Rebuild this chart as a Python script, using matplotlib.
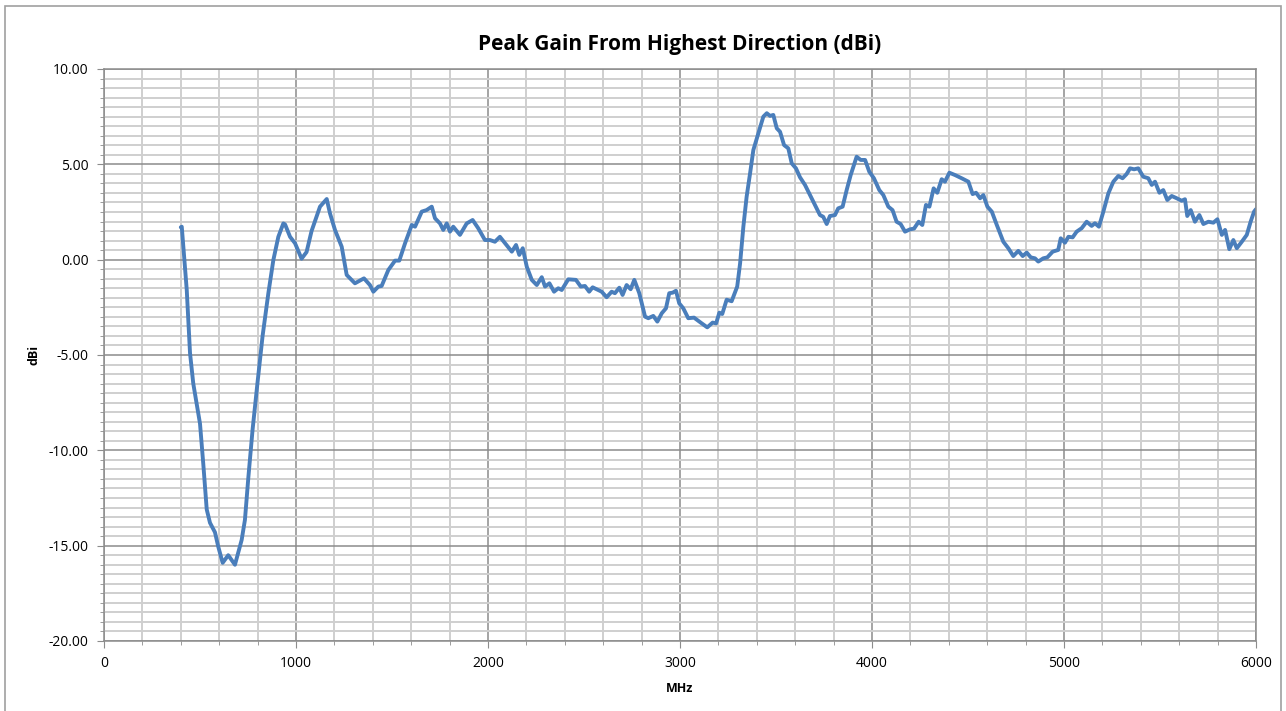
import matplotlib.pyplot as plt
from matplotlib.ticker import MultipleLocator, FormatStrFormatter
from matplotlib.patches import Rectangle

# frequency (MHz) and peak gain (dBi)
mhz = [400, 405, 431, 448, 465, 500, 517, 535, 552, 578, 595, 618, 647, 682,
       717, 734, 752, 774, 799, 826, 856, 882, 908, 934, 943, 969, 995, 1029,
       1055, 1081, 1125, 1160, 1177, 1203, 1238, 1264, 1307, 1354, 1385, 1403,
       1429, 1446, 1481, 1516, 1538, 1568, 1603, 1620, 1655, 1680, 1707, 1724,
       1750, 1767, 1785, 1802, 1819, 1854, 1889, 1920, 1949, 1984, 2010, 2036,
       2062, 2089, 2124, 2146, 2163, 2181, 2202, 2228, 2254, 2280, 2297, 2320,
       2344, 2366, 2384, 2418, 2458, 2483, 2505, 2527, 2545, 2574, 2592, 2618,
       2644, 2661, 2684, 2701, 2722, 2743, 2762, 2788, 2818, 2835, 2861, 2882,
       2905, 2927, 2944, 2962, 2979, 2996, 3017, 3043, 3073, 3113, 3142, 3170,
       3188, 3205, 3220, 3243, 3269, 3298, 3313, 3330, 3347, 3365, 3382, 3408,
       3434, 3452, 3469, 3486, 3504, 3521, 3542, 3564, 3582, 3604, 3625, 3651,
       3677, 3703, 3729, 3746, 3764, 3781, 3807, 3824, 3847, 3868, 3889, 3920,
       3941, 3964, 3986, 4010, 4038, 4059, 4085, 4107, 4128, 4149, 4172, 4198,
       4219, 4243, 4262, 4281, 4299, 4321, 4340, 4363, 4380, 4403, 4432, 4467,
       4502, 4524, 4542, 4563, 4580, 4601, 4624, 4650, 4684, 4710, 4736, 4762,
       4785, 4806, 4827, 4849, 4866, 4892, 4913, 4941, 4970, 4983, 5005, 5023,
       5045, 5066, 5092, 5118, 5144, 5161, 5182, 5205, 5231, 5257, 5283, 5305,
       5326, 5344, 5365, 5387, 5413, 5439, 5457, 5474, 5497, 5517, 5538, 5561,
       5587, 5613, 5630, 5642, 5660, 5682, 5705, 5726, 5752, 5778, 5799, 5822,
       5839, 5861, 5882, 5900, 5926, 5952, 5972, 5990, 6000]
gain = [1.70, 1.73, -1.59, -4.90, -6.50, -8.60, -10.70, -13.10, -13.80, -14.30,
        -15.05, -15.90, -15.50, -16.00, -14.70, -13.65, -11.40, -8.90, -6.50,
        -4.00, -1.76, -0.02, 1.20, 1.90, 1.85, 1.20, 0.86, 0.05, 0.40, 1.50,
        2.78, 3.18, 2.43, 1.56, 0.68, -0.80, -1.24, -0.98, -1.33, -1.68, -1.41,
        -1.38, -0.54, -0.05, -0.05, 0.86, 1.82, 1.73, 2.52, 2.60, 2.78, 2.17,
        1.90, 1.56, 1.90, 1.47, 1.73, 1.30, 1.90, 2.08, 1.65, 1.03, 1.03, 0.94,
        1.20, 0.86, 0.42, 0.77, 0.25, 0.60, -0.37, -1.06, -1.33, -0.92, -1.41,
        -1.24, -1.68, -1.50, -1.59, -1.03, -1.06, -1.41, -1.38, -1.68, -1.45,
        -1.59, -1.68, -1.97, -1.68, -1.76, -1.47, -1.85, -1.33, -1.55, -1.06,
        -1.76, -2.99, -3.07, -2.95, -3.25, -2.81, -2.55, -1.76, -1.73, -1.63,
        -2.29, -2.55, -3.07, -3.04, -3.34, -3.55, -3.30, -3.34, -2.78, -2.85,
        -2.10, -2.18, -1.41, -0.19, 1.73, 3.30, 4.53, 5.75, 6.63, 7.50, 7.68,
        7.54, 7.59, 6.89, 6.71, 6.01, 5.84, 5.05, 4.79, 4.32, 3.92, 3.39, 2.87,
        2.34, 2.25, 1.87, 2.29, 2.34, 2.69, 2.78, 3.65, 4.44, 5.40, 5.23, 5.23,
        4.61, 4.27, 3.65, 3.39, 2.78, 2.60, 1.99, 1.87, 1.47, 1.59, 1.63, 1.99,
        1.82, 2.87, 2.78, 3.74, 3.51, 4.22, 4.09, 4.56, 4.44, 4.27, 4.09, 3.44,
        3.51, 3.22, 3.39, 2.78, 2.52, 1.82, 0.94, 0.60, 0.19, 0.46, 0.19, 0.37,
        0.12, 0.07, -0.10, 0.07, 0.12, 0.42, 0.51, 1.12, 0.89, 1.20, 1.17, 1.47,
        1.65, 1.99, 1.77, 1.91, 1.73, 2.52, 3.48, 4.09, 4.39, 4.27, 4.49, 4.79,
        4.74, 4.79, 4.35, 4.27, 3.92, 4.09, 3.51, 3.65, 3.13, 3.34, 3.22, 3.09,
        3.17, 2.29, 2.60, 1.99, 2.34, 1.87, 1.99, 1.94, 2.12, 1.30, 1.56, 0.55,
        1.03, 0.60, 0.94, 1.30, 1.99, 2.52, 2.65]

plt.rcParams['font.family'] = ['Open Sans', 'DejaVu Sans']

fig = plt.figure(figsize=(12.86, 7.11), dpi=100)
ax = fig.add_axes([104/1286, 1 - 641/711, (1256-104)/1286, (641-69)/711])

# chart border like the spreadsheet frame
fig.patches.append(Rectangle((5/1286, -0.01), 1276/1286, 1 - 6/711 + 0.01,
                             transform=fig.transFigure, fill=False,
                             edgecolor='#a0a0a0', linewidth=1.2))

ax.plot(mhz, gain, color='#4a7ebb', linewidth=2.8, solid_joinstyle='round',
        solid_capstyle='round')

ax.set_xlim(0, 6000)
ax.set_ylim(-20, 10)
ax.xaxis.set_major_locator(MultipleLocator(1000))
ax.xaxis.set_minor_locator(MultipleLocator(200))
ax.yaxis.set_major_locator(MultipleLocator(5))
ax.yaxis.set_minor_locator(MultipleLocator(0.5))
ax.yaxis.set_major_formatter(FormatStrFormatter('%.2f'))

ax.grid(which='major', color='#8c8c8c', linewidth=1.1)
ax.grid(which='minor', color='#cfcfcf', linewidth=1.4)
ax.set_axisbelow(True)
for s in ax.spines.values():
    s.set_color('#8c8c8c')
    s.set_linewidth(1.1)

ax.tick_params(which='major', direction='out', length=5, color='#8c8c8c',
               labelsize=10, pad=6)
ax.tick_params(which='minor', direction='out', length=3, color='#8c8c8c')

ax.set_title('Peak Gain From Highest Direction (dBi)', fontsize=15,
             fontweight='bold', pad=14)
ax.set_xlabel('MHz', fontsize=9, fontweight='bold', labelpad=8)
ax.set_ylabel('dBi', fontsize=9, fontweight='bold', labelpad=6)

fig.savefig('out.png', dpi=100)
